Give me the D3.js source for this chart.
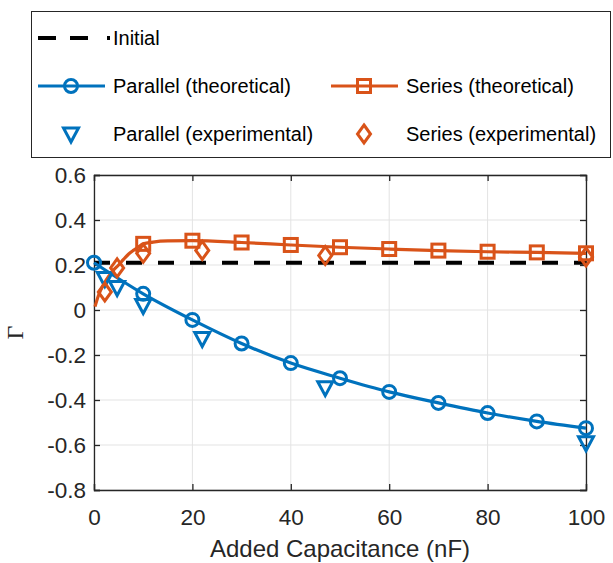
<!DOCTYPE html>
<html>
<head>
<meta charset="utf-8">
<script src="https://cdn.jsdelivr.net/npm/d3@7"></script>
<style>
  body { margin: 0; background: #fff; }
  svg { font-family: "Liberation Sans", Arial, sans-serif; }
</style>
</head>
<body>
<div id="chart"></div>
<script>
// Reflection coefficient vs added capacitance
const initialGamma = 0.21;

const parallelTheoX = [0, 10, 20, 30, 40, 50, 60, 70, 80, 90, 100];
const parallelTheoY = [0.21, 0.072, -0.044, -0.149, -0.236, -0.303, -0.364, -0.413, -0.458, -0.495, -0.525];

const seriesTheoX = [0.2, 1, 2, 3, 4, 5, 6, 7, 8, 9, 10, 12, 15, 20, 30, 40, 50, 60, 70, 80, 90, 100];
const seriesTheoY = [0.015, 0.07, 0.115, 0.15, 0.178, 0.2, 0.225, 0.248, 0.265, 0.28, 0.294, 0.302, 0.307, 0.308, 0.300, 0.289, 0.279, 0.271, 0.264, 0.259, 0.256, 0.252];
const seriesMarkerX = [10, 20, 30, 40, 50, 60, 70, 80, 90, 100];

const expX = [2.2, 4.7, 10, 22, 47, 100];
const parallelExpY = [0.14, 0.10, 0.02, -0.127, -0.345, -0.59];
const seriesExpY = [0.08, 0.187, 0.252, 0.265, 0.242, 0.236];

const xTicks = [0, 20, 40, 60, 80, 100];
const yTicks = [-0.8, -0.6, -0.4, -0.2, 0, 0.2, 0.4, 0.6];

const blue = "#0072BD", orange = "#D95319";

const W = 613, H = 563;
const margin = {top: 175, right: 27, bottom: 73, left: 94};
const width = W - margin.left - margin.right;
const height = H - margin.top - margin.bottom;

const svg = d3.select("#chart").append("svg")
    .attr("width", W)
    .attr("height", H);

const g = svg.append("g")
    .attr("transform", `translate(${margin.left},${margin.top})`);

const x = d3.scaleLinear().domain([0, 100]).range([0, width]);
const y = d3.scaleLinear().domain([-0.8, 0.6]).range([height, 0]);

// grid
g.append("g").selectAll("line").data(xTicks).enter().append("line")
    .attr("x1", d => x(d)).attr("x2", d => x(d))
    .attr("y1", 0).attr("y2", height)
    .attr("stroke", "#e3e3e3").attr("stroke-width", 1);
g.append("g").selectAll("line").data(yTicks).enter().append("line")
    .attr("x1", 0).attr("x2", width)
    .attr("y1", d => y(d)).attr("y2", d => y(d))
    .attr("stroke", "#e3e3e3").attr("stroke-width", 1);

// axes
const axisColor = "#262626";
const fmt = d => d === 0 ? "0" : d3.format(".1f")(d).replace("−", "-");

const xAxis = g.append("g")
    .attr("transform", `translate(0,${height})`)
    .call(d3.axisBottom(x).tickValues(xTicks).tickSize(-6).tickPadding(19).tickFormat(d => d));
const xAxisTop = g.append("g")
    .call(d3.axisTop(x).tickValues(xTicks).tickSize(-6).tickFormat(""));
const yAxis = g.append("g")
    .call(d3.axisLeft(y).tickValues(yTicks).tickSize(-6).tickPadding(8).tickFormat(fmt));
const yAxisRight = g.append("g")
    .attr("transform", `translate(${width},0)`)
    .call(d3.axisRight(y).tickValues(yTicks).tickSize(-6).tickFormat(""));

[xAxis, xAxisTop, yAxis, yAxisRight].forEach(a => {
    a.select(".domain").attr("stroke", axisColor).attr("stroke-width", 1.3);
    a.selectAll(".tick line").attr("stroke", axisColor).attr("stroke-width", 1.3);
    a.selectAll(".tick text")
        .attr("fill", "#262626")
        .style("font-size", "22.5px")
        .style("font-family", "Liberation Sans, Arial, sans-serif");
});

// axis labels
g.append("text")
    .attr("x", width / 2)
    .attr("y", height + 67)
    .attr("text-anchor", "middle")
    .attr("fill", "#262626")
    .style("font-size", "24px")
    .text("Added Capacitance (nF)");

g.append("text")
    .attr("transform", `translate(-71,${y(-0.1)}) rotate(-90)`)
    .attr("text-anchor", "middle")
    .attr("fill", "#262626")
    .style("font-family", "Liberation Serif, serif")
    .style("font-size", "24px")
    .text("Γ");

// initial dashed line
g.append("line")
    .attr("x1", x(0)).attr("x2", x(100))
    .attr("y1", y(initialGamma)).attr("y2", y(initialGamma))
    .attr("stroke", "#000").attr("stroke-width", 4)
    .attr("stroke-dasharray", "16,16");

const line = d3.line()
    .x(d => x(d[0]))
    .y(d => y(d[1]))
    .curve(d3.curveMonotoneX);

const parTheo = parallelTheoX.map((v, i) => [v, parallelTheoY[i]]);
const serTheo = seriesTheoX.map((v, i) => [v, seriesTheoY[i]]);

g.append("path").datum(parTheo)
    .attr("d", line)
    .attr("fill", "none").attr("stroke", blue).attr("stroke-width", 3.2);

g.append("path").datum(serTheo)
    .attr("d", line)
    .attr("fill", "none").attr("stroke", orange).attr("stroke-width", 3.2);

// marker shapes
function circleMark(sel) {
    sel.append("circle").attr("r", 6.5)
        .attr("fill", "none").attr("stroke", blue).attr("stroke-width", 3);
}
function squareMark(sel) {
    sel.append("rect").attr("x", -6.5).attr("y", -6.5).attr("width", 13).attr("height", 13)
        .attr("fill", "none").attr("stroke", orange).attr("stroke-width", 3);
}
function triMark(sel) {
    sel.append("path").attr("d", "M-7.5,-6 L7.5,-6 L0,8 Z")
        .attr("fill", "none").attr("stroke", blue).attr("stroke-width", 3)
        .attr("stroke-linejoin", "miter");
}
function diamondMark(sel) {
    sel.append("path").attr("d", "M0,-9 L6.5,0 L0,9 L-6.5,0 Z")
        .attr("fill", "none").attr("stroke", orange).attr("stroke-width", 3)
        .attr("stroke-linejoin", "miter");
}

g.selectAll(".par-theo").data(parTheo).enter().append("g")
    .attr("transform", d => `translate(${x(d[0])},${y(d[1])})`)
    .call(circleMark);

g.selectAll(".ser-theo").data(serTheo.filter(d => seriesMarkerX.includes(d[0]))).enter().append("g")
    .attr("transform", d => `translate(${x(d[0])},${y(d[1])})`)
    .call(squareMark);

g.selectAll(".par-exp").data(expX.map((v, i) => [v, parallelExpY[i]])).enter().append("g")
    .attr("transform", d => `translate(${x(d[0])},${y(d[1])})`)
    .call(triMark);

g.selectAll(".ser-exp").data(expX.map((v, i) => [v, seriesExpY[i]])).enter().append("g")
    .attr("transform", d => `translate(${x(d[0])},${y(d[1])})`)
    .call(diamondMark);

// legend
const legend = svg.append("g");
legend.append("rect")
    .attr("x", 31.5).attr("y", 11.5)
    .attr("width", 579).attr("height", 146)
    .attr("fill", "#fff").attr("stroke", "#262626").attr("stroke-width", 1);

const legendItems = [
    {label: "Initial", col: 0, row: 0, kind: "dash"},
    {label: "Parallel (theoretical)", col: 0, row: 1, kind: "line", color: blue, mark: circleMark},
    {label: "Series (theoretical)", col: 1, row: 1, kind: "line", color: orange, mark: squareMark},
    {label: "Parallel (experimental)", col: 0, row: 2, kind: "mark", mark: triMark},
    {label: "Series (experimental)", col: 1, row: 2, kind: "mark", mark: diamondMark}
];
const colX = [38, 331];
const rowY = [38, 86, 134];

legendItems.forEach(it => {
    const lg = legend.append("g")
        .attr("transform", `translate(${colX[it.col]},${rowY[it.row]})`);
    if (it.kind === "dash") {
        lg.append("line").attr("x1", 0).attr("x2", 72).attr("y1", 0).attr("y2", 0)
            .attr("stroke", "#000").attr("stroke-width", 4)
            .attr("stroke-dasharray", "18,14,18,19,3,40");
    } else if (it.kind === "line") {
        lg.append("line").attr("x1", 0).attr("x2", 67).attr("y1", 0).attr("y2", 0)
            .attr("stroke", it.color).attr("stroke-width", 3.2);
        lg.append("g").attr("transform", "translate(33,0)").call(it.mark);
    } else {
        lg.append("g").attr("transform", "translate(33,0)").call(it.mark);
    }
    lg.append("text")
        .attr("x", 75).attr("y", 0)
        .attr("dy", "0.35em")
        .attr("fill", "#000")
        .style("font-size", "20px")
        .text(it.label);
});
</script>
</body>
</html>
